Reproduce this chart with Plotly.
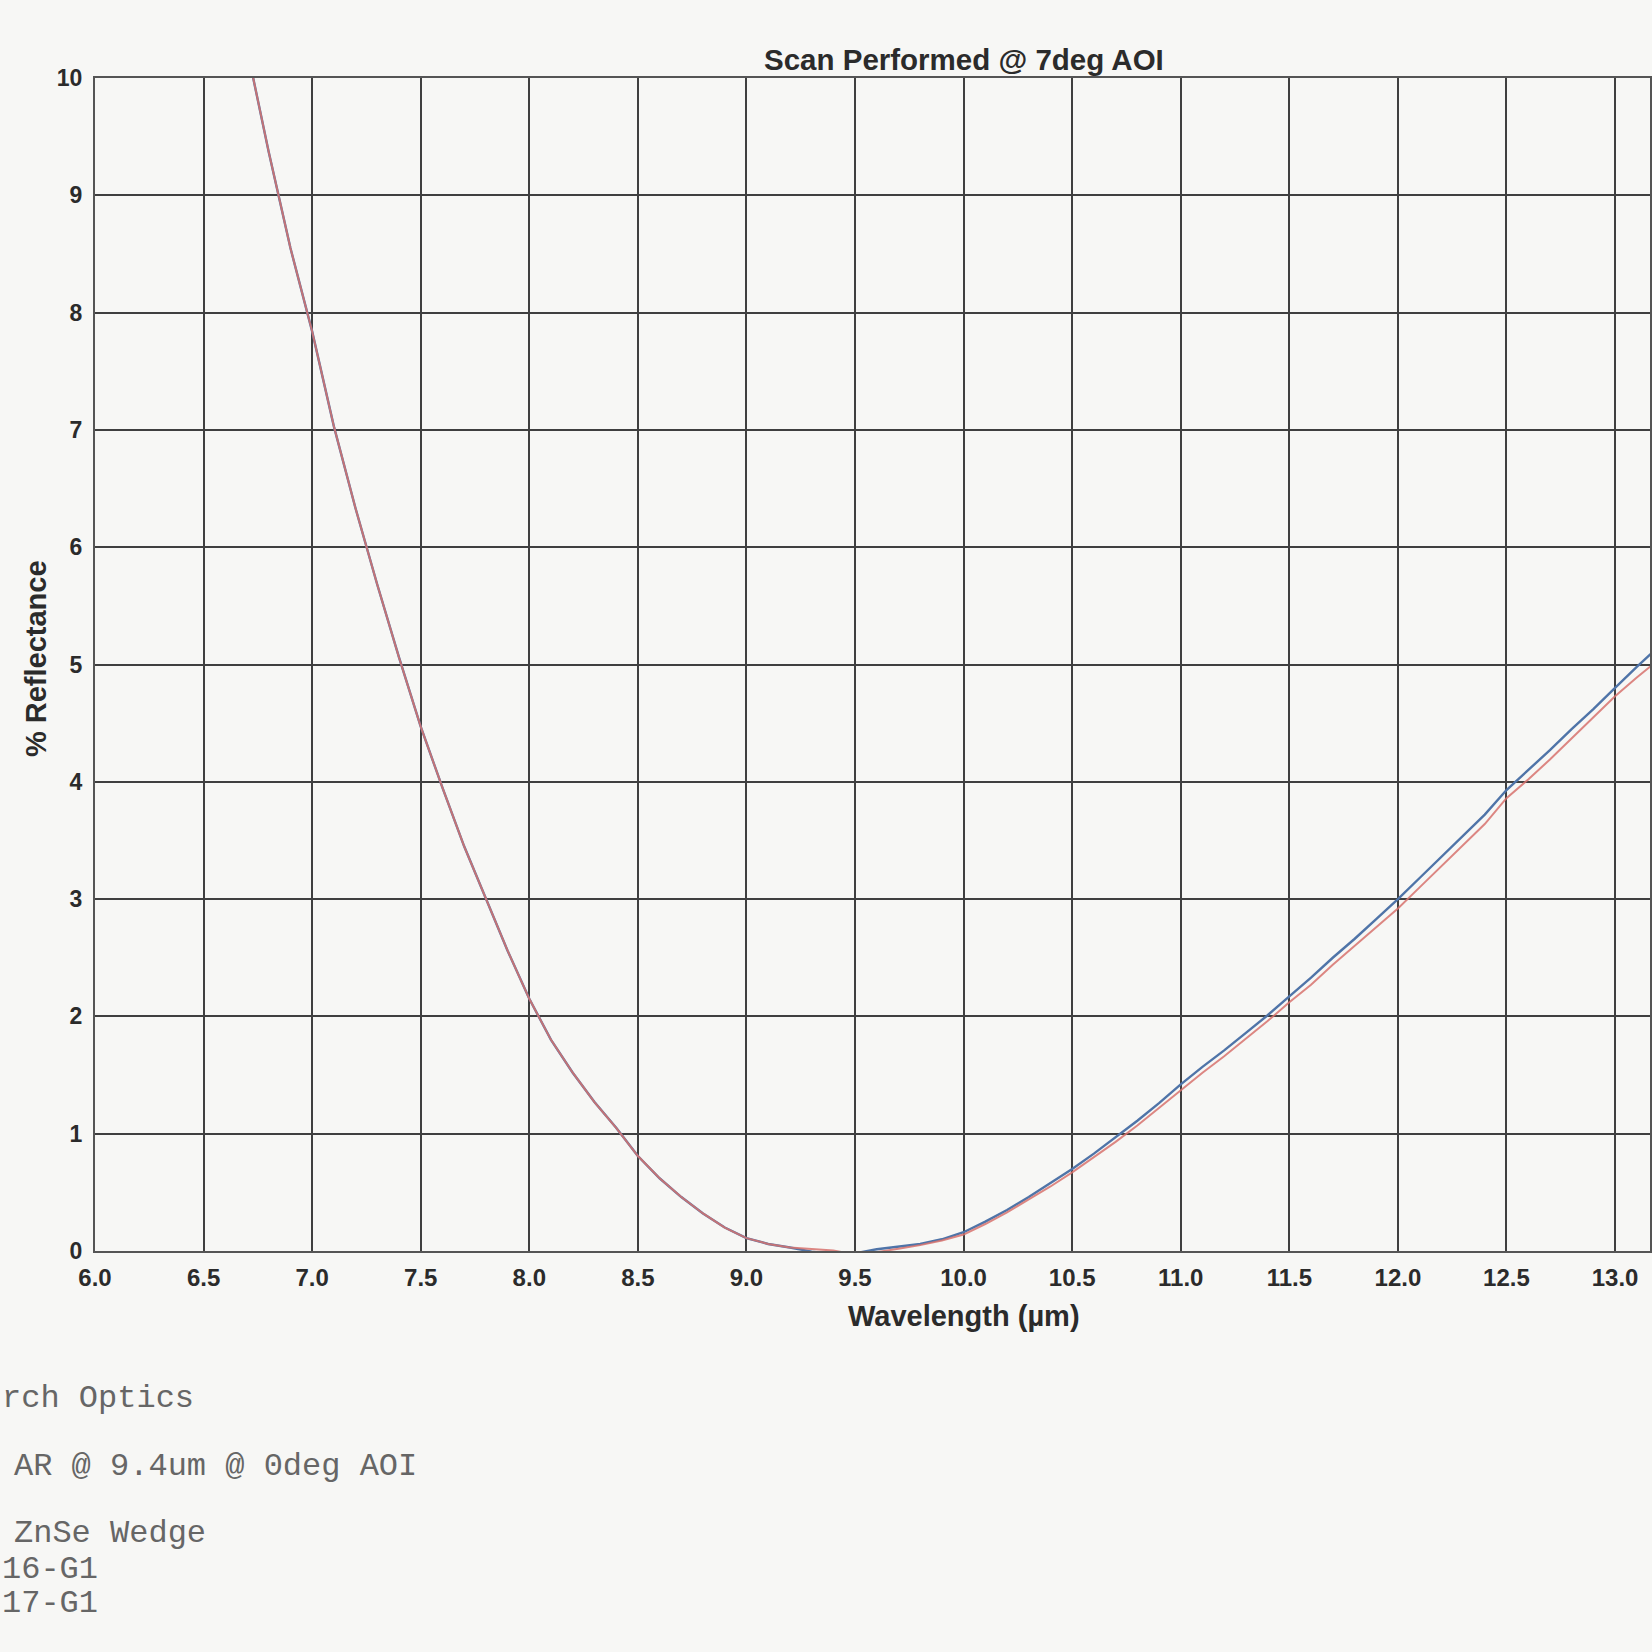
import plotly.graph_objects as go

# ---- data ----
wavelength = [6.7, 6.8, 6.9, 7.0, 7.1, 7.2, 7.3, 7.4, 7.5, 7.6, 7.7, 7.8, 7.9,
              8.0, 8.1, 8.2, 8.3, 8.4, 8.5, 8.6, 8.7, 8.8, 8.9,
              9.0, 9.1, 9.2, 9.3, 9.4, 9.5, 9.6, 9.7, 9.8, 9.9,
              10.0, 10.1, 10.2, 10.3, 10.4, 10.5, 10.6, 10.7, 10.8, 10.9,
              11.0, 11.1, 11.2, 11.3, 11.4, 11.5, 11.6, 11.7, 11.8, 11.9,
              12.0, 12.1, 12.2, 12.3, 12.4, 12.5, 12.6, 12.7, 12.8, 12.9,
              13.0, 13.1, 13.2]

refl_blue = [10.25, 9.37, 8.55, 7.84, 7.03, 6.33, 5.68, 5.06, 4.47, 3.95, 3.45, 3.00, 2.56,
             2.15, 1.80, 1.52, 1.27, 1.05, 0.81, 0.62, 0.46, 0.32, 0.20,
             0.11, 0.06, 0.03, -0.005, -0.03, -0.02, 0.015, 0.035, 0.06, 0.10,
             0.16, 0.25, 0.35, 0.46, 0.58, 0.70, 0.83, 0.97, 1.11, 1.26,
             1.42, 1.57, 1.71, 1.86, 2.01, 2.17, 2.33, 2.50, 2.66, 2.83,
             3.00, 3.18, 3.36, 3.54, 3.72, 3.93, 4.10, 4.27, 4.45, 4.62,
             4.80, 4.98, 5.15]

refl_red = [10.25, 9.37, 8.55, 7.84, 7.03, 6.33, 5.68, 5.06, 4.47, 3.95, 3.45, 3.00, 2.56,
            2.15, 1.80, 1.52, 1.27, 1.05, 0.81, 0.62, 0.46, 0.32, 0.20,
            0.11, 0.06, 0.03, 0.015, 0.004, -0.03, -0.01, 0.02, 0.05, 0.09,
            0.14, 0.23, 0.33, 0.44, 0.55, 0.67, 0.80, 0.93, 1.07, 1.22,
            1.37, 1.52, 1.66, 1.81, 1.96, 2.12, 2.27, 2.44, 2.60, 2.76,
            2.92, 3.10, 3.28, 3.46, 3.64, 3.86, 4.02, 4.19, 4.37, 4.55,
            4.73, 4.89, 5.04]

x_ticks = [6.0, 6.5, 7.0, 7.5, 8.0, 8.5, 9.0, 9.5, 10.0, 10.5, 11.0, 11.5, 12.0, 12.5, 13.0, 13.5, 14.0]
y_ticks = [0, 1, 2, 3, 4, 5, 6, 7, 8, 9, 10]

title_text = "Scan Performed @ 7deg AOI"
x_title = "Wavelength (µm)"
y_title = "% Reflectance"
notes = ["rch Optics", "AR @ 9.4um @ 0deg AOI", "ZnSe Wedge", "16-G1", "17-G1"]

# ---- layout geometry (pixels) ----
W = H = 1652
L, T = 95, 78
B_PIX = 1251
R_PIX = 1652
plot_w = R_PIX - L
plot_h = B_PIX - T
px_per_um = 217.43
x_max = 6.0 + plot_w / px_per_um

def px_to_paper_x(px):
    return (px - L) / plot_w

def px_to_paper_y(py):
    return (B_PIX - py) / plot_h

paper = "#f7f7f5"
grid = "#3f3f3f"
txt = "#2b2b2b"
sans = "Liberation Sans, Arial, sans-serif"
mono = "Liberation Mono, Courier New, monospace"

fig = go.Figure()
fig.add_trace(go.Scatter(x=wavelength, y=refl_blue, mode="lines",
                         line=dict(color="#4f74a8", width=2.4), showlegend=False))
fig.add_trace(go.Scatter(x=wavelength, y=refl_red, mode="lines",
                         line=dict(color="#d8736e", width=2.0), opacity=0.85, showlegend=False))

fig.update_layout(
    width=W, height=H,
    margin=dict(l=L, r=W - R_PIX, t=T, b=H - B_PIX, pad=0),
    paper_bgcolor=paper, plot_bgcolor=paper,
    showlegend=False,
)

fig.update_xaxes(range=[6.0, x_max], tickvals=x_ticks,
                 ticktext=[f"{v:.1f}" for v in x_ticks],
                 showgrid=True, gridcolor=grid, gridwidth=1.8,
                 showline=True, linecolor="#555555", linewidth=2, mirror=True,
                 zeroline=False, ticks="", ticklabelstandoff=4,
                 tickfont=dict(family=sans, size=24, color=txt, weight="bold"))
fig.update_yaxes(range=[0, 10], tickvals=y_ticks,
                 showgrid=True, gridcolor=grid, gridwidth=1.8,
                 showline=True, linecolor="#555555", linewidth=2, mirror=True,
                 zeroline=False, ticks="", ticklabelstandoff=6,
                 tickfont=dict(family=sans, size=23, color=txt, weight="bold"))

ann = []
# title centred over the full (uncropped) chart width
ann.append(dict(text=title_text, xref="x", yref="paper", x=10.0, y=px_to_paper_y(60),
                xanchor="center", yanchor="middle", showarrow=False,
                font=dict(family=sans, size=29.5, color=txt, weight="bold")))
ann.append(dict(text=x_title, xref="x", yref="paper", x=10.0, y=px_to_paper_y(1316),
                xanchor="center", yanchor="middle", showarrow=False,
                font=dict(family=sans, size=29, color=txt, weight="bold")))
ann.append(dict(text=y_title, xref="paper", yref="paper", x=px_to_paper_x(36), y=px_to_paper_y(659),
                xanchor="center", yanchor="middle", textangle=-90, showarrow=False,
                font=dict(family=sans, size=29, color=txt, weight="bold")))

note_pos = [(0, 1398), (12, 1466), (12, 1534), (0, 1569), (0, 1603)]
for t, (px, py) in zip(notes, note_pos):
    ann.append(dict(text=t, xref="paper", yref="paper", x=px_to_paper_x(px), y=px_to_paper_y(py),
                    xanchor="left", yanchor="middle", showarrow=False,
                    font=dict(family=mono, size=32, color="#666666")))

fig.update_layout(annotations=ann)
fig.write_html("out.html",
               config={"displayModeBar": False},
               post_script="document.body.style.margin='0';"
                           "document.body.style.background='#f7f7f5';")
